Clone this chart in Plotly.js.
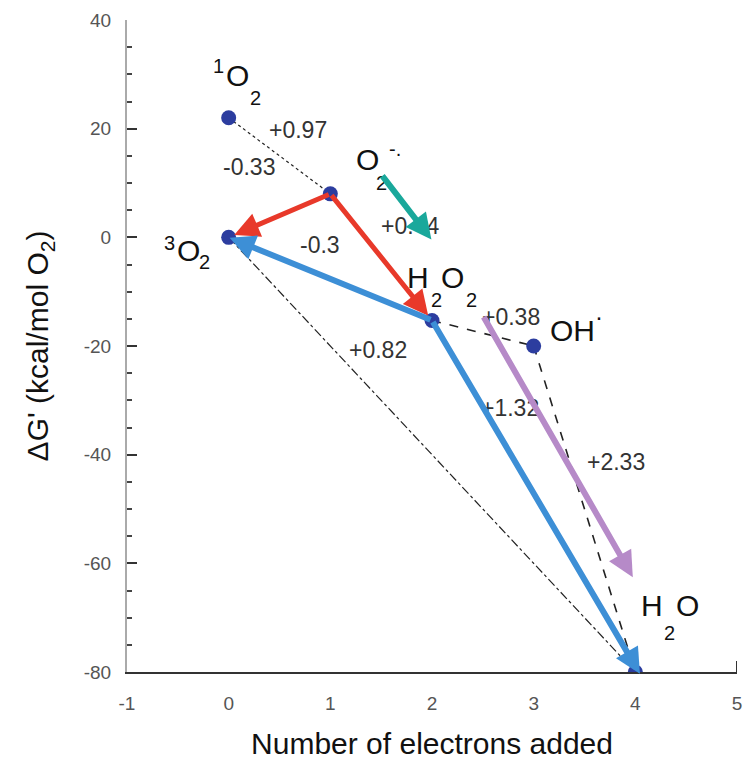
<!DOCTYPE html>
<html><head><meta charset="utf-8">
<script src="https://cdn.plot.ly/plotly-3.0.1.min.js"></script>
<style>html,body{margin:0;padding:0;background:#fff}#plot{width:743px;height:765px}</style>
</head><body><div id="plot"></div>
<script>
// Species (electrons added, ΔG')
const speciesNames = ["1O2", "O2-", "3O2", "H2O2", "OH", "H2O"];
const speciesX = [0, 1, 0, 2, 3, 4];
const speciesY = [22, 8, 0, -15.3, -20, -80];

// thin dashed connectors (index pairs) and their dash styles
const linkFrom = [0, 1, 2, 3, 4];
const linkTo   = [1, 3, 5, 4, 5];
const linkDash = ["dot", "dot", "dashdot", "dash", "dash"];

// thick arrows (tail -> head)
const arrowTailX = [1, 1, 2, 2, 1.50, 2.50];
const arrowTailY = [8, 8, -15.3, -15.3, 11.6, -14.4];
const arrowHeadX = [0, 2, 0, 4.05, 2.0, 3.98];
const arrowHeadY = [0, -15.3, 0, -80.5, -0.55, -62.7];
const arrowColor = ["#e8392a", "#e8392a", "#3d8fd6", "#3d8fd6", "#1aa89b", "#b68ac8"];

// potential labels (V)
const potText = ["+0.97", "-0.33", "+0.44", "-0.3", "+0.38", "+0.82", "+1.32", "+2.33"];
const potX = [0.68, 0.20, 1.78, 0.895, 2.78, 1.466, 2.764, 3.806];
const potY = [19.7, 12.9, 2.0, -1.5, -14.7, -20.8, -31.5, -41.3];

// species labels: main glyphs and small super/subscripts
const bigText = ["O", "O", "O", "H", "O", "OH", "H", "O"];
const bigX = [0.089, 1.367, -0.40, 1.86, 2.203, 3.38, 4.16, 4.515];
const bigY = [29.7, 14.4, -2.4, -7.4, -7.4, -17.1, -67.8, -67.8];
const smallText = ["1", "2", "2", "-.", "3", "2", "2", "2", "·", "2"];
const smallX = [-0.098, 0.266, 1.50, 1.64, -0.58, -0.236, 2.046, 2.39, 3.64, 4.34];
const smallY = [31.5, 25.6, 10.0, 16.2, -1.1, -4.6, -11.6, -11.6, -14.6, -72.8];

const xTicks = [-1, 0, 1, 2, 3, 4, 5];
const yTicks = [-80, -60, -40, -20, 0, 20, 40];

const FONT = "Liberation Sans, Arial, sans-serif";
const traces = [];
for (let i = 0; i < linkFrom.length; i++) {
  traces.push({
    x: [speciesX[linkFrom[i]], speciesX[linkTo[i]]],
    y: [speciesY[linkFrom[i]], speciesY[linkTo[i]]],
    mode: "lines", type: "scatter", hoverinfo: "skip",
    line: {color: "#222", width: (i >= 3 ? 1.6 : 1.2), dash: linkDash[i]}
  });
}
traces.push({
  x: speciesX, y: speciesY, text: speciesNames, mode: "markers", type: "scatter",
  marker: {color: "#2c3d9f", size: 15}
});

const ann = [];
potText.forEach((t, i) => ann.push({x: potX[i], y: potY[i], text: t, showarrow: false,
  font: {family: FONT, size: 23, color: "#333"}}));
bigText.forEach((t, i) => ann.push({x: bigX[i], y: bigY[i], text: t, showarrow: false,
  font: {family: FONT, size: 30, color: "#111"}}));
smallText.forEach((t, i) => ann.push({x: smallX[i], y: smallY[i], text: t, showarrow: false,
  font: {family: FONT, size: (t === "·" ? 24 : 20), color: "#111"}}));
for (let i = 0; i < arrowTailX.length; i++) {
  const w = (arrowColor[i] === "#e8392a") ? 5 : 6;
  ann.push({x: arrowHeadX[i], y: arrowHeadY[i], ax: arrowTailX[i], ay: arrowTailY[i],
    xref: "x", yref: "y", axref: "x", ayref: "y", text: "", showarrow: true,
    arrowhead: 2, arrowsize: (w === 5 ? 1 : 0.85), arrowwidth: w, arrowcolor: arrowColor[i],
    standoff: (i < 2 ? 6 : 1), startstandoff: 0});
}

const layout = {
  width: 743, height: 765,
  margin: {l: 127, r: 6, t: 20, b: 93},
  paper_bgcolor: "#fff", plot_bgcolor: "#fff",
  showlegend: false,
  font: {family: FONT},
  xaxis: {
    range: [-1, 5], tickvals: xTicks, ticktext: xTicks.map(String),
    showgrid: false, zeroline: false, showline: true, linecolor: "#333", linewidth: 2,
    ticks: "", tickfont: {size: 19, color: "#555"}, ticklabelstandoff: 13,
    title: {text: "Number of electrons added", font: {size: 30, color: "#111"}, standoff: 20}
  },
  yaxis: {
    range: [-80, 40], tickvals: yTicks, ticktext: yTicks.map(String),
    showgrid: false, zeroline: false, showline: true, linecolor: "#aaa", linewidth: 2,
    ticks: "inside", ticklen: 10, tickwidth: 2, tickcolor: "#333",
    minor: {dtick: 5, ticks: "inside", ticklen: 5, tickwidth: 2, tickcolor: "#444", showgrid: false},
    tickfont: {size: 19, color: "#555"}, ticklabelstandoff: 10,
    title: {text: "ΔG' (kcal/mol O<sub>2</sub>)", font: {size: 30, color: "#111"}, standoff: 26}
  },
  shapes: [{type: "line", xref: "x", yref: "paper", x0: 5, x1: 5, y0: 0, y1: 0.017,
    line: {color: "#333", width: 2}}],
  annotations: ann
};
Plotly.newPlot("plot", traces, layout, {staticPlot: true});
</script></body></html>
